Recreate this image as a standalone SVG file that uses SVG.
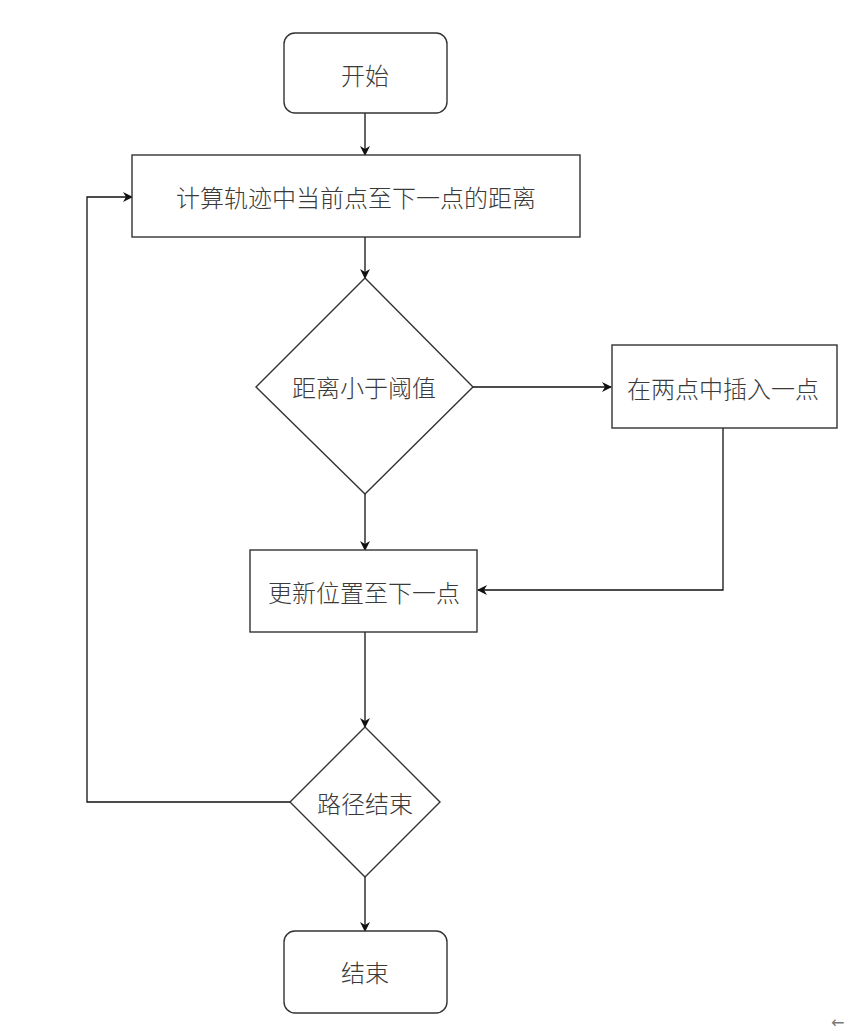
<svg xmlns="http://www.w3.org/2000/svg" width="848" height="1031" viewBox="0 0 848 1031">
<defs>
<marker id="arr" viewBox="0 0 10 10" refX="9" refY="5" markerWidth="10" markerHeight="10" markerUnits="userSpaceOnUse" orient="auto">
<path d="M0,0 L10,5 L0,10 L3,5 Z" fill="#111"/>
</marker>
<style>
.shape{fill:#fff;stroke:#333;stroke-width:1.4}
.lbl{font-family:"Noto Sans CJK SC","Microsoft YaHei",sans-serif;font-size:24px;font-weight:300;fill:#3a3a3a;text-anchor:middle;dominant-baseline:central}
.edge{fill:none;stroke:#111;stroke-width:1.3}
</style>
</defs>
<rect width="848" height="1031" fill="#fff"/>
<g id="connectors">
<line class="edge" x1="365" y1="113" x2="365" y2="155" marker-end="url(#arr)"/>
<line class="edge" x1="365" y1="237" x2="365" y2="278" marker-end="url(#arr)"/>
<line class="edge" x1="473" y1="387" x2="611" y2="387" marker-end="url(#arr)"/>
<polyline class="edge" points="723,428 723,590 478,590" marker-end="url(#arr)"/>
<line class="edge" x1="365" y1="494" x2="365" y2="550" marker-end="url(#arr)"/>
<line class="edge" x1="365" y1="632" x2="365" y2="727" marker-end="url(#arr)"/>
<polyline class="edge" points="290,802 87,802 87,197 132,197" marker-end="url(#arr)"/>
<line class="edge" x1="365" y1="877" x2="365" y2="931" marker-end="url(#arr)"/>
</g>
<g id="start">
<rect class="shape" x="284" y="33" width="163" height="80" rx="11"/>
<text class="lbl" x="365" y="74">开始</text>
</g>
<g id="compute">
<rect class="shape" x="132" y="155" width="448" height="82"/>
<text class="lbl" x="356" y="196">计算轨迹中当前点至下一点的距离</text>
</g>
<g id="decision1">
<polygon class="shape" points="365,278 473,387 365,494 256,387"/>
<text class="lbl" x="364" y="386">距离小于阈值</text>
</g>
<g id="insert">
<rect class="shape" x="612" y="345" width="225" height="83"/>
<text class="lbl" x="723" y="387">在两点中插入一点</text>
</g>
<g id="update">
<rect class="shape" x="250" y="550" width="227" height="82"/>
<text class="lbl" x="364" y="591">更新位置至下一点</text>
</g>
<g id="decision2">
<polygon class="shape" points="365,727 440,802 365,877 290,802"/>
<text class="lbl" x="365" y="802">路径结束</text>
</g>
<g id="end">
<rect class="shape" x="284" y="931" width="163" height="82" rx="11"/>
<text class="lbl" x="365" y="971">结束</text>
</g>
<text x="831" y="1028" font-family="DejaVu Sans, sans-serif" font-size="16" fill="#777">←</text>
</svg>
